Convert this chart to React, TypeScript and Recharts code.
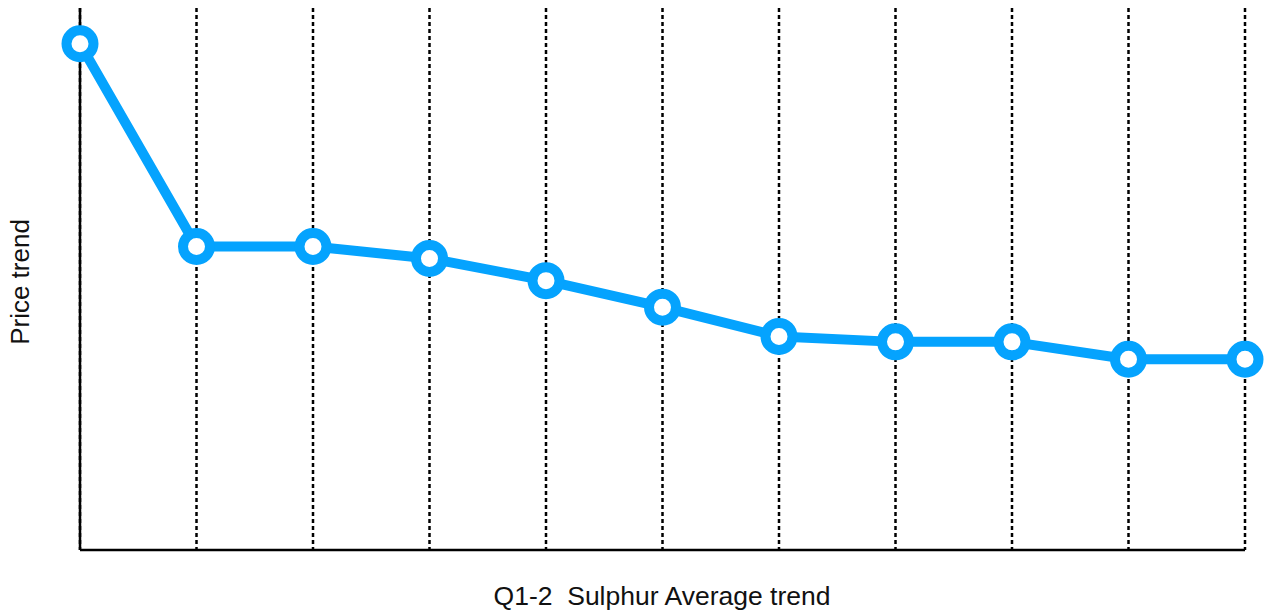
import React from 'react';
import { LineChart, Line, XAxis, YAxis, CartesianGrid } from 'recharts';

// periods along the x axis (no tick labels are shown in the chart)
const periods = ['P1', 'P2', 'P3', 'P4', 'P5', 'P6', 'P7', 'P8', 'P9', 'P10', 'P11'];
// relative sulphur price (axis 0–100)
const priceValues = [93.4, 56.0, 56.0, 53.8, 49.7, 44.8, 39.4, 38.4, 38.4, 35.2, 35.2];

const LINE_COLOR = '#05a3fe';
const FONT = '"Liberation Sans", Arial, Helvetica, sans-serif';

const data = periods.map((p, i) => ({ period: p, price: priceValues[i] }));

// ticks are still needed for the dashed grid, but nothing is drawn for them
const NoTick = () => <g />;

const App: React.FC = () => {
  return (
    <div style={{ position: 'absolute', left: 0, top: 0, width: 1264, height: 614, background: '#fff', fontFamily: FONT }}>
      <LineChart width={1264} height={614} data={data} margin={{ top: 8, right: 19, left: 79, bottom: 63 }}>
        <CartesianGrid horizontal={false} vertical stroke="#000" strokeWidth={2.5} strokeDasharray="4 3" />
        <XAxis
          dataKey="period"
          height={1}
          interval={0}
          tick={NoTick}
          tickLine={false}
          axisLine={{ stroke: '#000', strokeWidth: 2.5 }}
        />
        <YAxis
          domain={[0, 100]}
          width={1}
          tick={false}
          tickLine={false}
          axisLine={{ stroke: '#000', strokeWidth: 2.5 }}
        />
        <Line
          type="linear"
          dataKey="price"
          stroke={LINE_COLOR}
          strokeWidth={10}
          strokeLinejoin="round"
          dot={{ r: 13.5, fill: '#fff', stroke: LINE_COLOR, strokeWidth: 10 }}
          activeDot={false}
          isAnimationActive={false}
        />
      </LineChart>
      <div
        style={{
          position: 'absolute',
          left: 20,
          top: 282,
          transform: 'translate(-50%, -50%) rotate(-90deg)',
          whiteSpace: 'nowrap',
          fontSize: 26,
          color: '#111',
        }}
      >
        Price trend
      </div>
      <div
        style={{
          position: 'absolute',
          left: 662,
          top: 596,
          transform: 'translate(-50%, -50%)',
          whiteSpace: 'pre',
          fontSize: 26.5,
          color: '#111',
        }}
      >
        {'Q1-2  Sulphur Average trend'}
      </div>
    </div>
  );
};

export default App;
